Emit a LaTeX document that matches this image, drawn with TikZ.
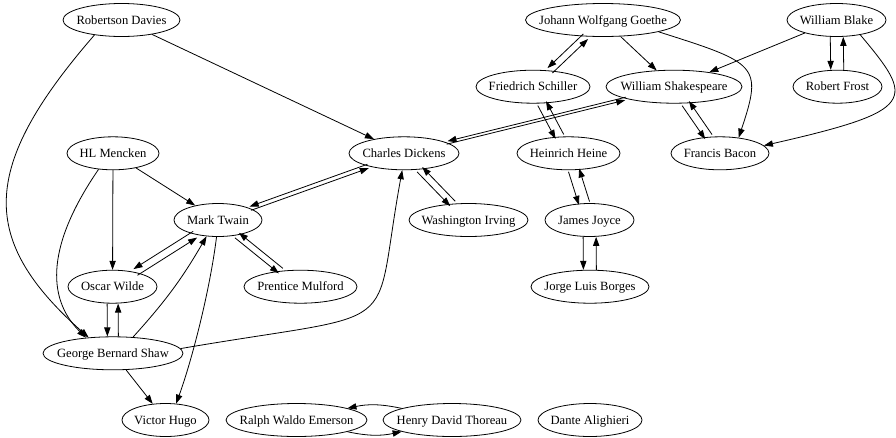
\documentclass[tikz,border=0pt]{standalone}
\usepackage{fontspec}
\setmainfont{Liberation Serif}
\usetikzlibrary{shapes.geometric,arrows.meta}
\newcommand{\nm}[1]{\makebox[0pt]{\smash{#1}\vphantom{H}}}
\begin{document}
\begin{tikzpicture}[x=1pt,y=-1pt,
  ell/.style={ellipse, draw, line width=0.8pt, inner sep=0pt, minimum height=33pt,
    font=\fontsize{12.6}{14}\selectfont},
  edge/.style={line width=0.8pt, -{Triangle[length=9pt,width=6.3pt]}}]
\useasboundingbox (0,0) rectangle (896,437);
% nodes
\node[ell, minimum width=117pt] (rd) at (121.5,20) {\nm{Robertson Davies}};
\node[ell, minimum width=155pt] (go) at (603,20) {\nm{Johann Wolfgang Goethe}};
\node[ell, minimum width=99pt] (wb) at (836.5,20) {\nm{William Blake}};
\node[ell, minimum width=114pt] (fs) at (533,86.7) {\nm{Friedrich Schiller}};
\node[ell, minimum width=136pt] (ws) at (674,86.7) {\nm{William Shakespeare}};
\node[ell, minimum width=89pt] (rf) at (837.5,86.7) {\nm{Robert Frost}};
\node[ell, minimum width=92pt] (hl) at (113,153.3) {\nm{HL Mencken}};
\node[ell, minimum width=110pt] (cd) at (404,153.3) {\nm{Charles Dickens}};
\node[ell, minimum width=103pt] (hh) at (568.5,153.3) {\nm{Heinrich Heine}};
\node[ell, minimum width=98pt] (fb) at (720,153.3) {\nm{Francis Bacon}};
\node[ell, minimum width=88pt] (mt) at (218,220) {\nm{Mark Twain}};
\node[ell, minimum width=119pt] (wi) at (468.5,220) {\nm{Washington Irving}};
\node[ell, minimum width=89pt] (jj) at (589.5,220) {\nm{James Joyce}};
\node[ell, minimum width=89pt] (ow) at (112.5,286.7) {\nm{Oscar Wilde}};
\node[ell, minimum width=113pt] (pm) at (300.5,286.7) {\nm{Prentice Mulford}};
\node[ell, minimum width=118pt] (jb) at (590,286.7) {\nm{Jorge Luis Borges}};
\node[ell, minimum width=140pt] (gb) at (113,353.3) {\nm{George Bernard Shaw}};
\node[ell, minimum width=87pt] (vh) at (165.5,420) {\nm{Victor Hugo}};
\node[ell, minimum width=141pt] (re) at (296.5,420) {\nm{Ralph Waldo Emerson}};
\node[ell, minimum width=138pt] (ht) at (452,420) {\nm{Henry David Thoreau}};
\node[ell, minimum width=104pt] (da) at (590,420) {\nm{Dante Alighieri}};
% single edges
\draw[edge] (rd) -- (cd);
\draw[edge] (rd.209.5) .. controls (-21,168) and (-21,240) .. (gb.147);
\draw[edge] (hl) -- (mt);
\draw[edge] (hl) -- (ow);
\draw[edge] (hl.228) .. controls (48,243) and (45,297) .. (gb.150);
\draw[edge] (go) -- (ws);
\draw[edge] (go.-12) .. controls (757,63) and (763,65) .. (fb.40);
\draw[edge] (wb) -- (ws);
\draw[edge] (wb.-32) .. controls (915,100) and (918,110.5) .. (fb.10);
\draw[edge] (gb.39) to[bend right=6] (mt.-125);
\draw[edge] (mt.-95) .. controls (210,290) and (192,360) .. (vh.57);
\draw[edge] (gb) -- (vh);
\draw[edge] (gb.4) .. controls (411,309) and (371,340) .. (cd.-96);
% paired edges
\draw[edge, transform canvas={shift={(-0.7pt,1.9pt)}}] (cd) -- (mt);
\draw[edge, transform canvas={shift={(0.7pt,-1.9pt)}}] (mt) -- (cd);
\draw[edge, transform canvas={shift={(-0.4pt,-1.5pt)}}] (cd) -- (ws);
\draw[edge, transform canvas={shift={(0.4pt,1.5pt)}}] (ws) -- (cd);
\draw[edge, transform canvas={shift={(-2.5pt,-2.45pt)}}] (cd) -- (wi);
\draw[edge, transform canvas={shift={(2.5pt,2.45pt)}}] (wi) -- (cd);
\draw[edge, transform canvas={shift={(-2.4pt,2.5pt)}}] (go) -- (fs);
\draw[edge, transform canvas={shift={(2.4pt,-2.5pt)}}] (fs) -- (go);
\draw[edge, transform canvas={shift={(-6.5pt,0pt)}}] (wb) -- (rf);
\draw[edge, transform canvas={shift={(6.5pt,0pt)}}] (rf) -- (wb);
\draw[edge, transform canvas={shift={(-4.1pt,-2.2pt)}}] (fs) -- (hh);
\draw[edge, transform canvas={shift={(4.1pt,2.2pt)}}] (hh) -- (fs);
\draw[edge, transform canvas={shift={(-3.4pt,-2.3pt)}}] (ws) -- (fb);
\draw[edge, transform canvas={shift={(3.4pt,2.3pt)}}] (fb) -- (ws);
\draw[edge, transform canvas={shift={(-5.3pt,-1.65pt)}}] (hh) -- (jj);
\draw[edge, transform canvas={shift={(5.3pt,1.65pt)}}] (jj) -- (hh);
\draw[edge, transform canvas={shift={(-6.5pt,0pt)}}] (jj) -- (jb);
\draw[edge, transform canvas={shift={(6.5pt,0pt)}}] (jb) -- (jj);
\draw[edge, transform canvas={shift={(-2pt,3.1pt)}}] (mt) -- (ow);
\draw[edge, transform canvas={shift={(2pt,-3.1pt)}}] (ow) -- (mt);
\draw[edge, transform canvas={shift={(-2pt,-2.5pt)}}] (mt) -- (pm);
\draw[edge, transform canvas={shift={(2pt,2.5pt)}}] (pm) -- (mt);
\draw[edge, transform canvas={shift={(-5.5pt,0pt)}}] (ow) -- (gb);
\draw[edge, transform canvas={shift={(5.5pt,0pt)}}] (gb) -- (ow);
\draw[edge] (ht.167) to[bend right=12] (re.13);
\draw[edge] (re.-13) to[bend right=12] (ht.193);
\end{tikzpicture}
\end{document}
